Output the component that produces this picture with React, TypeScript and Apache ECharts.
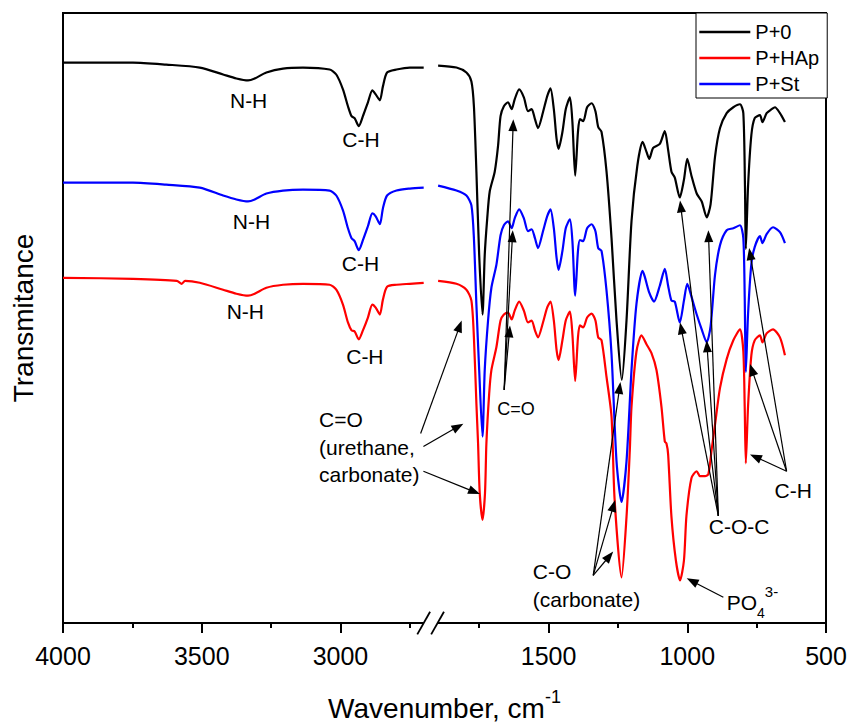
import React, { useEffect, useRef } from 'react';
import * as echarts from 'echarts';

const FONT = '"Liberation Sans", Arial, Helvetica, sans-serif';

const seriesNames = ['P+0', 'P+HAp', 'P+St'];
const seriesColors = ['#000000', '#ff0000', '#0000ff'];
const xTickLabels = [4000, 3500, 3000, 1500, 1000, 500];
const xMinorTicks = [3750, 3250, 2750, 1750, 1250, 750];

// P+0 (black) — wavenumber (cm-1) and transmittance (a.u., offset as plotted)
const p0Wavenumber = [
  4000, 3748, 3628, 3507, 3423, 3375, 3333, 3309, 3267, 3207, 3135, 3039, 3015, 2991, 2973, 2960, 2949, 2934, 2919, 2901,
  2885, 2873, 2858, 2847, 2832, 2798, 2750, 2700,
  1898, 1832, 1796, 1778, 1769, 1760, 1750, 1738, 1730, 1721, 1712, 1694, 1682, 1673, 1661, 1646, 1633, 1622, 1606, 1589,
  1574, 1561, 1549, 1538, 1520, 1505, 1493, 1481, 1471, 1464, 1450, 1438, 1423, 1414, 1404, 1394, 1387, 1375, 1361, 1345,
  1331, 1321, 1309, 1291, 1273, 1255, 1236, 1219, 1201, 1180, 1161, 1147, 1137, 1123, 1099, 1081, 1069, 1057, 1045, 1027,
  1012, 1000, 985, 966, 948, 930, 916, 900, 882, 858, 834, 810, 798, 792, 789, 781, 769, 757, 738, 729, 714, 696, 684, 666, 648,
];
const p0Trans = [
  565, 565, 563, 560, 553, 549, 547, 549, 555, 559, 560, 558, 553, 538, 521, 511, 509, 501, 511, 525,
  537, 533, 527, 541, 555, 558, 560, 560,
  562, 560, 555, 546, 521, 455, 371, 311, 371, 408, 435, 455, 481, 511, 521, 525, 518, 528, 538, 530,
  516, 518, 508, 499, 515, 531, 539, 518, 488, 478, 495, 518, 530, 505, 451, 495, 508, 506, 520, 524,
  516, 500, 495, 455, 388, 305, 245, 305, 405, 461, 485, 475, 468, 479, 483, 496, 477, 455, 449, 429,
  447, 468, 451, 433, 425, 409, 422, 470, 499, 514, 520, 523, 514, 440, 377, 440, 492, 509, 512, 505, 514, 518, 520, 514, 505,
];

// P+HAp (red)
const pHApWavenumber = [
  4000, 3748, 3590, 3572, 3560, 3507, 3423, 3375, 3333, 3309, 3267, 3207, 3135, 3039, 3015, 2991, 2973, 2960, 2949, 2934,
  2919, 2901, 2885, 2873, 2858, 2847, 2832, 2798, 2750, 2700,
  1898, 1832, 1796, 1778, 1769, 1760, 1754, 1748, 1738, 1729, 1724, 1714, 1706, 1688, 1673, 1661, 1646, 1633, 1622, 1606,
  1589, 1574, 1561, 1549, 1538, 1520, 1505, 1493, 1481, 1471, 1464, 1450, 1438, 1423, 1414, 1404, 1394, 1387, 1375, 1361,
  1345, 1331, 1321, 1309, 1291, 1273, 1262, 1237, 1219, 1207, 1201, 1183, 1165, 1147, 1129, 1111, 1093, 1081, 1075, 1069,
  1057, 1041, 1026, 1012, 1003, 985, 966, 954, 936, 924, 912, 900, 882, 858, 834, 810, 798, 793, 789, 781,
  769, 757, 738, 729, 714, 691, 666, 648,
];
const pHApTrans = [
  348, 347, 345, 342, 345, 343, 336, 332, 330, 332, 338, 341, 342, 341, 336, 321, 303, 295, 294, 286,
  295, 308, 321, 318, 311, 326, 339, 341, 342, 343,
  345, 342, 336, 325, 288, 221, 181, 131, 104, 131, 181, 231, 255, 278, 305, 311, 313, 306, 315, 324,
  315, 303, 305, 295, 288, 303, 318, 324, 305, 275, 265, 285, 305, 314, 291, 244, 288, 300, 298, 308,
  312, 305, 288, 285, 248, 208, 125, 46, 107, 175, 218, 274, 290, 281, 272, 255, 218, 183, 181, 170,
  107, 63, 43, 63, 108, 146, 153, 148, 148, 150, 175, 200, 237, 266, 285, 296, 274, 218, 161, 218,
  270, 285, 290, 283, 292, 296, 288, 270,
];

// P+St (blue)
const pStWavenumber = [
  4000, 3748, 3628, 3507, 3423, 3375, 3333, 3309, 3267, 3207, 3135, 3039, 3015, 2991, 2973, 2960, 2949, 2934, 2919, 2901,
  2885, 2873, 2858, 2847, 2832, 2798, 2750, 2700,
  1898, 1832, 1796, 1778, 1769, 1760, 1750, 1738, 1730, 1718, 1706, 1688, 1673, 1661, 1646, 1633, 1622, 1606, 1589, 1574,
  1561, 1549, 1538, 1520, 1505, 1493, 1481, 1471, 1464, 1450, 1438, 1423, 1414, 1404, 1394, 1387, 1375, 1361, 1345, 1331,
  1321, 1309, 1291, 1273, 1255, 1237, 1219, 1201, 1183, 1161, 1153, 1137, 1120, 1099, 1081, 1069, 1057, 1045, 1027, 1012,
  1000, 985, 966, 948, 930, 916, 900, 882, 858, 834, 810, 798, 793, 789, 781, 769, 757, 738, 729, 714, 691, 666, 648,
];
const pStTrans = [
  444, 444, 442, 439, 431, 427, 425, 427, 433, 436, 437, 436, 431, 416, 398, 388, 385, 376, 386, 400,
  413, 410, 402, 418, 431, 436, 438, 439,
  441, 436, 431, 421, 388, 321, 255, 188, 255, 305, 338, 361, 391, 401, 405, 398, 408, 417, 408, 395,
  397, 388, 378, 395, 410, 417, 398, 368, 356, 375, 398, 407, 385, 330, 375, 386, 385, 398, 402, 395,
  378, 375, 335, 271, 163, 122, 163, 255, 322, 355, 349, 333, 324, 340, 357, 340, 325, 324, 303, 325,
  342, 329, 311, 296, 283, 299, 351, 381, 396, 398, 401, 388, 329, 253, 311, 362, 379, 390, 383, 392, 399, 394, 383,
];

// broken axis: 4000–2700 and 1900–500 share one continuous axis scale
const toAxis = (w: number) => (w > 2300 ? 4000 - w : 3250 - w);
const fromAxis = (v: number) => (v <= 1325 ? 4000 - v : 3250 - v);
const GAP_START = toAxis(2700);
const GAP_END = toAxis(1900);

function buildData(wn: number[], tr: number[]) {
  const out: any[] = [];
  for (let i = 0; i < wn.length; i++) {
    if (i > 0 && wn[i - 1] > 2300 && wn[i] <= 2300) out.push([(GAP_START + GAP_END) / 2, '-']);
    out.push([toAxis(wn[i]), tr[i]]);
  }
  return out;
}

// annotation texts (axis units)
const labels = [
  { text: 'N-H', v: 669, t: 527 },
  { text: 'N-H', v: 679, t: 405 },
  { text: 'N-H', v: 657, t: 314 },
  { text: 'C-H', v: 1074, t: 487 },
  { text: 'C-H', v: 1072, t: 362 },
  { text: 'C-H', v: 1088, t: 269 },
  { text: 'C=O', v: 1633, t: 216, size: 18 },
  { text: 'C=O\n(urethane,\ncarbonate)', v: 923, t: 177, align: 'left', lh: 27.5 },
  { text: 'C-O\n(carbonate)', v: 1693, t: 38, align: 'left', lh: 28 },
  { text: 'C-O-C', v: 2437, t: 97 },
  { text: 'C-H', v: 2632, t: 134 },
];

const arrows: [number[], number[]][] = [
  [[1289, 191], [1437, 305]],
  [[1299, 178], [1443, 201]],
  [[1299, 153], [1503, 130]],
  [[1590, 235], [1623, 508]],
  [[1590, 235], [1621, 396]],
  [[1590, 235], [1611, 300]],
  [[1911, 48], [2009, 243]],
  [[1911, 48], [1990, 124]],
  [[1911, 48], [1983, 72]],
  [[2362, 108], [2224, 426]],
  [[2362, 108], [2326, 396]],
  [[2362, 108], [2224, 303]],
  [[2362, 108], [2320, 285]],
  [[2608, 153], [2473, 378]],
  [[2608, 153], [2476, 261]],
  [[2608, 153], [2476, 170]],
  [[2380, 26], [2248, 45]],
];

export default function App() {
  const ref = useRef<HTMLDivElement>(null);
  useEffect(() => {
    const chart = echarts.init(ref.current!, null, { renderer: 'svg' });
    const datasets = [
      buildData(p0Wavenumber, p0Trans),
      buildData(pHApWavenumber, pHApTrans),
      buildData(pStWavenumber, pStTrans),
    ];
    chart.setOption({
      animation: false,
      backgroundColor: '#ffffff',
      grid: { left: 63, right: 24, top: 13, bottom: 99, show: true, borderColor: '#000', borderWidth: 2 },
      legend: {
        data: seriesNames,
        orient: 'vertical',
        left: 696,
        top: 13,
        itemWidth: 51,
        itemHeight: 20,
        itemGap: 6,
        padding: [9, 8, 4, 2],
        borderColor: '#000',
        borderWidth: 1,
        backgroundColor: '#fff',
        itemStyle: { opacity: 0 },
        lineStyle: { width: 2.6 },
        textStyle: { fontSize: 20, fontFamily: FONT, color: '#000' },
      },
      xAxis: [
        {
          type: 'value',
          min: 0,
          max: 2750,
          interval: 250,
          axisLine: { show: false, onZero: false },
          splitLine: { show: false },
          axisTick: { show: true, length: 10, lineStyle: { color: '#000', width: 2 }, customValues: xTickLabels.map(toAxis) },
          axisLabel: {
            show: true,
            margin: 20,
            fontSize: 25,
            fontFamily: FONT,
            color: '#000',
            customValues: xTickLabels.map(toAxis),
            formatter: (val: number) => String(fromAxis(val)),
          },
          name: '{a|Wavenumber, cm}{p|-1}',
          nameLocation: 'middle',
          nameGap: 65,
          nameTextStyle: {
            fontSize: 28,
            fontFamily: FONT,
            color: '#000',
            rich: {
              a: { fontSize: 28, fontFamily: FONT, color: '#000', lineHeight: 40, verticalAlign: 'middle' },
              p: { fontSize: 18, fontFamily: FONT, color: '#000', lineHeight: 23, verticalAlign: 'top' },
            },
          },
        },
        {
          type: 'value',
          min: 0,
          max: 2750,
          interval: 250,
          position: 'bottom',
          axisLine: { show: false, onZero: false },
          splitLine: { show: false },
          axisLabel: { show: false },
          axisTick: { show: true, length: 5, lineStyle: { color: '#000', width: 2 }, customValues: xMinorTicks.map(toAxis) },
        },
      ],
      yAxis: {
        type: 'value',
        min: 0,
        max: 615,
        axisLine: { show: false },
        axisTick: { show: false },
        axisLabel: { show: false },
        splitLine: { show: false },
        name: 'Transmitance',
        nameLocation: 'middle',
        nameGap: 26,
        nameTextStyle: { fontSize: 28, fontFamily: FONT, color: '#000' },
      },
      series: seriesNames.map((name, i) => ({
        name,
        type: 'line',
        xAxisIndex: 0,
        yAxisIndex: 0,
        data: datasets[i],
        symbol: 'none',
        smooth: 0.25,
        connectNulls: false,
        lineStyle: { color: seriesColors[i], width: 2.2 },
        itemStyle: { color: seriesColors[i] },
        emphasis: { disabled: true },
      })),
    });

    const P = (v: number, t: number) =>
      chart.convertToPixel({ xAxisIndex: 0, yAxisIndex: 0 } as any, [v, t]) as unknown as number[];

    const g: any[] = [];
    labels.forEach((l) => {
      const [x, y] = P(l.v, l.t);
      g.push({
        type: 'text',
        z: 50,
        x,
        y,
        style: {
          text: l.text,
          fill: '#000',
          fontSize: l.size || 21,
          fontFamily: FONT,
          align: l.align || 'center',
          verticalAlign: 'middle',
          lineHeight: l.lh || 24,
        },
      });
    });
    {
      const [x, y] = P(2392, 21);
      g.push({
        type: 'text',
        z: 50,
        x,
        y,
        style: {
          text: '{a|PO}{b|4}{c|3-}',
          fill: '#000',
          align: 'left',
          verticalAlign: 'middle',
          rich: {
            a: { fontSize: 21, fontFamily: FONT, lineHeight: 36, verticalAlign: 'middle' },
            b: { fontSize: 14, fontFamily: FONT, lineHeight: 22, verticalAlign: 'bottom' },
            c: { fontSize: 15, fontFamily: FONT, lineHeight: 26, verticalAlign: 'top' },
          },
        },
      });
    }
    arrows.forEach(([s, e]) => {
      const [x1, y1] = P(s[0], s[1]);
      const [x2, y2] = P(e[0], e[1]);
      const dx = x2 - x1;
      const dy = y2 - y1;
      const L = Math.hypot(dx, dy) || 1;
      const ux = dx / L;
      const uy = dy / L;
      const hl = 12;
      const hw = 4.5;
      const bx = x2 - ux * hl;
      const by = y2 - uy * hl;
      g.push({
        type: 'line',
        z: 50,
        shape: { x1, y1, x2: bx + ux * 2, y2: by + uy * 2 },
        style: { stroke: '#000', lineWidth: 1.2 },
      });
      g.push({
        type: 'polygon',
        z: 50,
        shape: { points: [[x2, y2], [bx - uy * hw, by + ux * hw], [bx + uy * hw, by - ux * hw]] },
        style: { fill: '#000' },
      });
    });
    // axis break marks
    const [gx1, gy] = P(GAP_START, 0);
    const [gx2] = P(GAP_END, 0);
    g.push({
      type: 'rect',
      z: 60,
      shape: { x: gx1, y: gy - 3, width: gx2 - gx1, height: 6 },
      style: { fill: '#fff' },
    });
    [gx1, gx2].forEach((cx) => {
      g.push({
        type: 'line',
        z: 61,
        shape: { x1: cx - 6.4, y1: gy + 11.4, x2: cx + 6.4, y2: gy - 11.3 },
        style: { stroke: '#000', lineWidth: 1.8 },
      });
    });
    chart.setOption({ graphic: g });

    return () => chart.dispose();
  }, []);
  return (
    <div
      ref={ref}
      style={{ position: 'fixed', left: 0, top: 0, width: 850, height: 727, background: '#fff' }}
    />
  );
}
